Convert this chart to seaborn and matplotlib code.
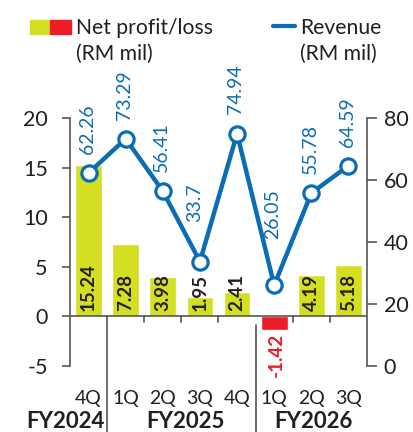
import numpy as np
import pandas as pd
import matplotlib
matplotlib.use("Agg")
import matplotlib.pyplot as plt
import matplotlib.transforms as mtransforms
from matplotlib.patches import Rectangle
from matplotlib.lines import Line2D
import seaborn as sns

quarters = ["4Q", "1Q", "2Q", "3Q", "4Q", "1Q", "2Q", "3Q"]
years = ["FY2024", "FY2025", "FY2025", "FY2025", "FY2025", "FY2026", "FY2026", "FY2026"]
net_profit = [15.24, 7.28, 3.98, 1.95, 2.41, -1.42, 4.19, 5.18]
revenue = [62.26, 73.29, 56.41, 33.7, 74.94, 26.05, 55.78, 64.59]
rev_labels = ["62.26", "73.29", "56.41", "33.7", "74.94", "26.05", "55.78", "64.59"]
np_labels = ["15.24", "7.28", "3.98", "1.95", "2.41", "-1.42", "4.19", "5.18"]
year_groups = ["FY2024", "FY2025", "FY2026"]

GREEN = "#d5df22"
RED = "#ee1c25"
BLUE = "#0b6db5"
TXT = "#231f20"
GRAY = "#555555"

sns.set_style("white")
plt.rcParams['font.family'] = ['Lato', 'DejaVu Sans']

df = pd.DataFrame({
    "key": [f"{q}{y}" for q, y in zip(quarters, years)],
    "profit": net_profit,
    "revenue": revenue,
    "sign": ["neg" if v < 0 else "pos" for v in net_profit],
    "idx": np.arange(len(quarters)),
})

fig = plt.figure(figsize=(4.14, 4.32), dpi=100)
ax = fig.add_axes([70 / 414, 66 / 432, 297 / 414, 248 / 432])

sns.barplot(data=df, x="key", y="profit", hue="sign", order=list(df["key"]),
            palette={"pos": GREEN, "neg": RED}, dodge=False, width=0.72,
            legend=False, ax=ax, saturation=1)
ax.set_xlim(-0.5, len(quarters) - 0.5)
ax.set_ylim(-5, 20)
ax.set_yticks([-5, 0, 5, 10, 15, 20])
ax.set_yticklabels(["-5", "0", "5", "10", "15", "20"], fontsize=15.5, color=TXT)
ax.set_xticks([])
ax.set_xlabel("")
ax.set_ylabel("")
for s in ["top", "right", "bottom"]:
    ax.spines[s].set_visible(False)
ax.spines["left"].set_color(GRAY)
ax.spines["left"].set_linewidth(1.2)
ax.tick_params(axis="y", direction="out", length=6, width=1.2, color=GRAY, pad=10, left=True)
ax.axhline(0, color=GRAY, lw=1.2, zorder=3)

# bar labels
for i, (v, lab) in enumerate(zip(net_profit, np_labels)):
    if v >= 0:
        ax.text(i, 0.55, lab, rotation=90, ha="center", va="bottom",
                fontsize=13.5, fontweight="bold", color=TXT, zorder=5)
    else:
        ax.text(i + 0.05, v - 0.25, lab, rotation=90, ha="center", va="top",
                fontsize=13.5, fontweight="bold", color=RED, zorder=5)

# ticks along zero line and group separators
trans = mtransforms.blended_transform_factory(ax.transData, ax.transAxes)
for b in [1.5, 2.5, 3.5, 5.5, 6.5]:
    ax.plot([b, b], [0, -0.6], color=GRAY, lw=1.2, clip_on=False, zorder=3)
ax.plot([0.5, 0.5], [0.2, -0.27], color=GRAY, lw=1.2, transform=trans, clip_on=False)
ax.plot([4.5, 4.5], [0.165, -0.27], color=GRAY, lw=1.2, transform=trans, clip_on=False)

for i, q in enumerate(quarters):
    ax.text(i, -0.13, q, transform=trans, ha="center", va="center",
            fontsize=14, color=TXT)
year_pos = [(0.42, "right"), (2.6, "center"), (6.05, "center")]
for (x, ha), y in zip(year_pos, year_groups):
    ax.text(x, -0.225, y, transform=trans, ha=ha,
            va="center", fontsize=16, fontweight="bold", color=TXT)

# revenue line on twin axis
ax2 = ax.twinx()
sns.lineplot(data=df, x="idx", y="revenue", ax=ax2, color=BLUE, lw=3.2,
             marker="o", markersize=11, markerfacecolor="white",
             markeredgecolor=BLUE, markeredgewidth=2.3, zorder=6, clip_on=False)
ax2.set_ylim(0, 80)
ax2.set_xlim(-0.5, len(quarters) - 0.5)
ax2.set_yticks([0, 20, 40, 60, 80])
ax2.set_yticklabels(["0", "20", "40", "60", "80"], fontsize=15.5, color=TXT)
ax2.set_xlabel("")
ax2.set_ylabel("")
for s in ["top", "left", "bottom"]:
    ax2.spines[s].set_visible(False)
ax2.spines["right"].set_color(GRAY)
ax2.spines["right"].set_linewidth(1.2)
ax2.tick_params(axis="y", direction="out", length=7, width=1.2, color=GRAY, pad=5, right=True)
ax2.tick_params(axis="x", bottom=False, labelbottom=False)

# label offsets (revenue units): low points lifted clear of the line
label_offset = {3: 12.6, 5: 15.0}
label_dx = {3: -0.1}
for i, (v, lab) in enumerate(zip(revenue, rev_labels)):
    ax2.text(i - 0.03 + label_dx.get(i, 0), v + label_offset.get(i, 6.2), lab,
             rotation=90, ha="center", va="bottom",
             fontsize=14, color=BLUE, zorder=7, clip_on=False)

# legend
fig.patches.append(Rectangle((30 / 414, 1 - 34 / 432), 20 / 414, 14 / 432,
                             transform=fig.transFigure, color=GREEN))
fig.patches.append(Rectangle((50 / 414, 1 - 34 / 432), 21 / 414, 14 / 432,
                             transform=fig.transFigure, color=RED))
fig.text(76 / 414, 1 - 34 / 432, "Net profit/loss", ha="left", va="baseline",
         fontsize=15.2, color=TXT)
fig.text(76 / 414, 1 - 60 / 432, "(RM mil)", ha="left", va="baseline",
         fontsize=15.2, color=TXT)
fig.lines.append(Line2D([273 / 414, 295 / 414], [1 - 26 / 432, 1 - 26 / 432],
                        transform=fig.transFigure, color=BLUE, lw=3))
fig.text(300 / 414, 1 - 34 / 432, "Revenue", ha="left", va="baseline",
         fontsize=15.2, color=TXT)
fig.text(300 / 414, 1 - 60 / 432, "(RM mil)", ha="left", va="baseline",
         fontsize=15.2, color=TXT)

fig.savefig("out.png", dpi=100)
